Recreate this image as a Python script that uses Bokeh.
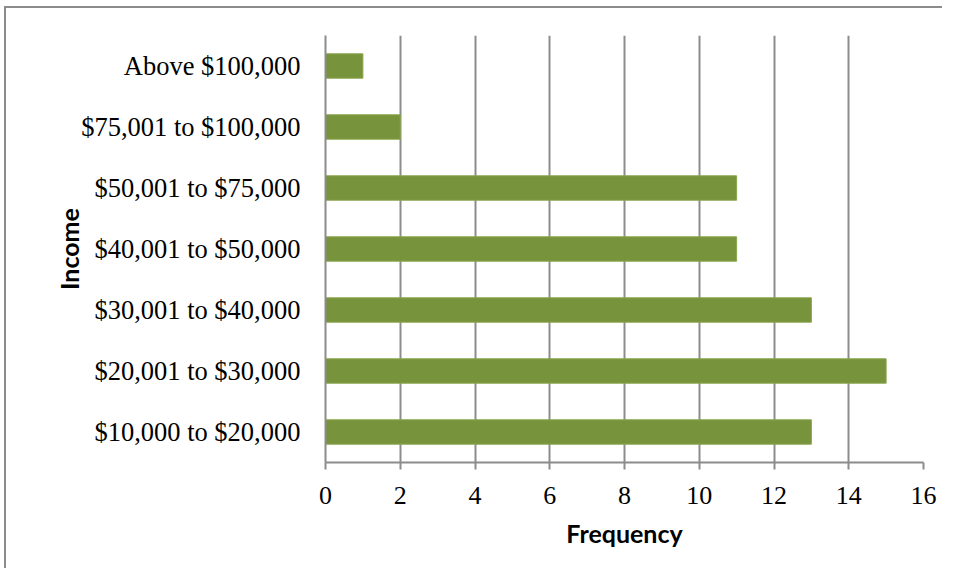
from bokeh.plotting import figure
from bokeh.models import Range1d, FactorRange, ColumnDataSource, FixedTicker
from bokeh.embed import file_html
from bokeh.resources import INLINE

categories = ["$10,000 to $20,000", "$20,001 to $30,000", "$30,001 to $40,000",
              "$40,001 to $50,000", "$50,001 to $75,000", "$75,001 to $100,000",
              "Above $100,000"]
frequency = [13, 15, 13, 11, 11, 2, 1]
x_ticks = [0, 2, 4, 6, 8, 10, 12, 14, 16]

src = ColumnDataSource(dict(cat=categories, freq=frequency))

p = figure(width=938, height=562, output_backend="svg", toolbar_location=None,
           x_range=Range1d(0, 16), y_range=FactorRange(factors=categories),
           min_border_left=319, min_border_right=21, min_border_top=27,
           min_border_bottom=108,
           styles={"border-left": "2px solid #8c8c8c", "border-top": "2px solid #8c8c8c",
                   "margin-left": "4px", "margin-top": "6px"})
p.outline_line_color = None

p.hbar(y="cat", right="freq", left=0, height=0.4, source=src,
       fill_color="#77933C", line_color="#8AA64E", line_width=1)

grid_color = "#8c8c8c"
p.ygrid.grid_line_color = None
p.xgrid.grid_line_color = grid_color
p.xgrid.grid_line_width = 2
p.xgrid.ticker = FixedTicker(ticks=x_ticks)

xa = p.xaxis[0]
xa.ticker = FixedTicker(ticks=x_ticks)
xa.axis_line_color = grid_color
xa.axis_line_width = 2
xa.major_tick_line_color = grid_color
xa.major_tick_line_width = 2
xa.major_tick_in = 0
xa.major_tick_out = 7
xa.minor_tick_line_color = None
xa.major_label_text_font = "Liberation Serif"
xa.major_label_text_font_size = "26px"
xa.major_label_text_color = "black"
xa.major_label_standoff = 17
xa.axis_label = "Frequency"
xa.axis_label_text_font = "Lato"
xa.axis_label_text_font_style = "bold"
xa.axis_label_text_font_size = "25px"
xa.axis_label_text_color = "black"
xa.axis_label_standoff = 11

ya = p.yaxis[0]
ya.axis_line_color = grid_color
ya.axis_line_width = 2
ya.major_tick_line_color = None
ya.major_tick_in = 0
ya.major_tick_out = 0
ya.minor_tick_line_color = None
ya.major_label_text_font = "Liberation Serif"
ya.major_label_text_font_size = "26.5px"
ya.major_label_text_color = "black"
ya.major_label_standoff = 25
ya.axis_label = "Income"
ya.axis_label_text_font = "Lato"
ya.axis_label_text_font_style = "bold"
ya.axis_label_text_font_size = "25px"
ya.axis_label_text_color = "black"
ya.axis_label_standoff = -6

open("out.html", "w").write(file_html(p, INLINE))
